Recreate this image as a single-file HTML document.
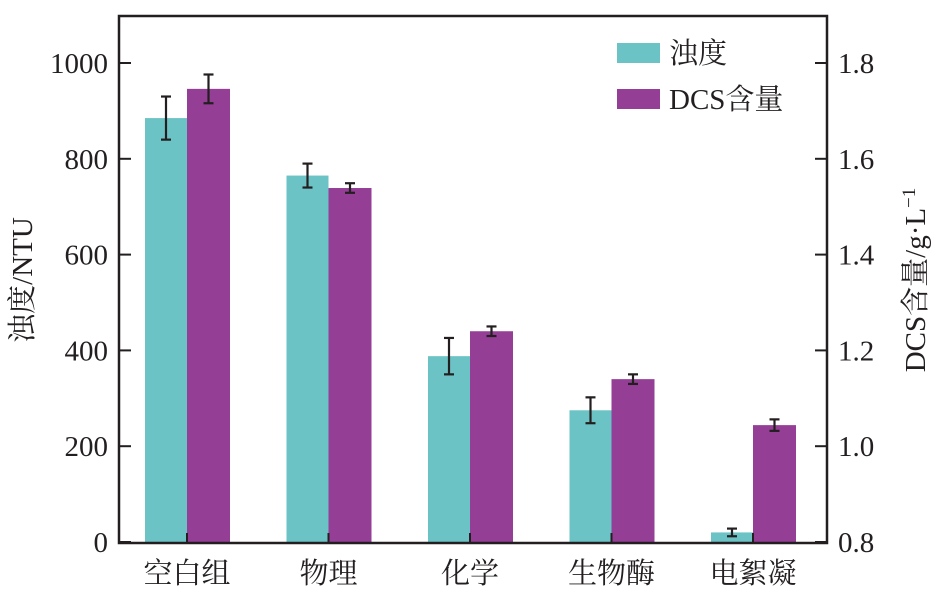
<!DOCTYPE html>
<html><head><meta charset="utf-8"><style>
html,body{margin:0;padding:0;background:#fff;}
svg text{font-family:"Liberation Serif","Noto Serif CJK SC",serif;fill:#231f20;}
</style></head><body>
<svg id="chart" width="941" height="591" viewBox="0 0 941 591">
<g id="plot"></g>
</svg>
<script>
const categories=["空白组","物理","化学","生物酶","电絮凝"];
const turbidity=[885,765,388,275,20];
const turbidityErr=[45,25,38,27,8];
const dcs=[1.746,1.539,1.240,1.140,1.044];
const dcsErr=[0.03,0.01,0.01,0.01,0.012];
const leftTicks=[0,200,400,600,800,1000];
const rightTicks=["0.8","1.0","1.2","1.4","1.6","1.8"];

const NS="http://www.w3.org/2000/svg";
const g=document.getElementById('plot');
const L=119,R=827,T=16,B=543;
const yL=v=>542-v*0.479;
const yR=v=>542-(v-0.8)*479;
const xC=i=>187+i*141.5;
function mk(tag,attrs,parent){const e=document.createElementNS(NS,tag);for(const k in attrs)e.setAttribute(k,attrs[k]);(parent||g).appendChild(e);return e;}

// bars
categories.forEach((c,i)=>{
  const x=xC(i);
  const b1=mk('rect',{x:x-42,y:yL(turbidity[i]),width:42,height:542-yL(turbidity[i]),fill:'#6cc3c5'});
  
  
  const b2=mk('rect',{x:x,y:yR(dcs[i]),width:43,height:542-yR(dcs[i]),fill:'#943e96'});
  
  
  const eb=[[x-21,yL(turbidity[i]+turbidityErr[i]),yL(turbidity[i]-turbidityErr[i])],[x+21.5,yR(dcs[i]+dcsErr[i]),yR(dcs[i]-dcsErr[i])]];
  eb.forEach((e,j)=>{
    const grp=mk('g',{stroke:'#231f20','stroke-width':2.2});
    
    
    mk('line',{x1:e[0],x2:e[0],y1:e[1],y2:e[2]},grp);
    mk('line',{x1:e[0]-5,x2:e[0]+5,y1:e[1],y2:e[1]},grp);
    mk('line',{x1:e[0]-5,x2:e[0]+5,y1:e[2],y2:e[2]},grp);
  });
  const tk=mk('line',{x1:x,x2:x,y1:B,y2:B-10,stroke:'#231f20','stroke-width':2});
  
  
  const t=mk('text',{x:x,y:583,'text-anchor':'middle','font-size':29});
  t.textContent=c;
  
  
});
// frame
const fr=mk('rect',{x:L,y:T,width:R-L,height:B-T,fill:'none',stroke:'#231f20','stroke-width':2.5});


leftTicks.forEach(v=>{
  const y=yL(v);
  const l=mk('line',{x1:L,x2:L+12,y1:y,y2:y,stroke:'#231f20','stroke-width':2});
  
  
  const t=mk('text',{x:108,y:y+10,'text-anchor':'end','font-size':29});
  t.textContent=v;
  
  
});
rightTicks.forEach(v=>{
  const y=yR(parseFloat(v));
  const l=mk('line',{x1:R-12,x2:R,y1:y,y2:y,stroke:'#231f20','stroke-width':2});
  
  
  const t=mk('text',{x:838,y:y+10,'font-size':29});
  t.textContent=v;
  
  
});
</script>
<svg style="position:absolute;left:0;top:0" width="941" height="591">
<text x="32" y="280" font-size="29" text-anchor="middle" transform="rotate(-90 32 280)">浊度/NTU</text>
<text x="925" y="280" font-size="29" text-anchor="middle" transform="rotate(-90 925 280)">DCS含量/g·L<tspan dy="-10" font-size="19">−1</tspan></text>
<g>
<rect x="617" y="43" width="43" height="20" fill="#6cc3c5"/>
<text x="669" y="63" font-size="29">浊度</text>
<rect x="617" y="89" width="43" height="20" fill="#943e96"/>
<text x="669" y="109" font-size="29">DCS含量</text>
</g>
</svg>
</body></html>
